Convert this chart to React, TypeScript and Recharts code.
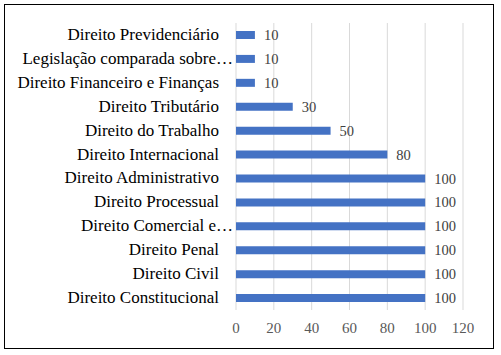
import { BarChart, Bar, XAxis, YAxis, CartesianGrid, LabelList } from "recharts";

const CATEGORIES = [
  "Direito Previdenciário",
  "Legislação comparada sobre…",
  "Direito Financeiro e Finanças",
  "Direito Tributário",
  "Direito do Trabalho",
  "Direito Internacional",
  "Direito Administrativo",
  "Direito Processual",
  "Direito Comercial e…",
  "Direito Penal",
  "Direito Civil",
  "Direito Constitucional",
];

const VALUES = [10, 10, 10, 30, 50, 80, 100, 100, 100, 100, 100, 100];

const X_TICKS = [0, 20, 40, 60, 80, 100, 120];

const data = CATEGORIES.map((name, i) => ({ name, value: VALUES[i] }));

const FONT = "Liberation Serif";

const XTick = (props: any) => {
  const { x, y, payload } = props;
  return (
    <text x={x} y={y + 23} textAnchor="middle" fill="#595959" fontSize={15} fontFamily={FONT}>
      {payload.value}
    </text>
  );
};

// truncated labels (with …) run right up to the bars, like in the original
const YTick = (props: any) => {
  const { x, y, payload } = props;
  const shift = String(payload.value).endsWith("…") ? 14 : 0;
  return (
    <text x={x + shift} y={y + 5} textAnchor="end" fill="#000" fontSize={17} fontFamily={FONT}>
      {payload.value}
    </text>
  );
};

const ValueLabel = (props: any) => {
  const { x, y, width, height, value } = props;
  return (
    <text x={x + width + 9} y={y + height / 2 + 5} fill="#404040" fontSize={14.5} fontFamily={FONT}>
      {value}
    </text>
  );
};

export default function App() {
  return (
    <div
      style={{
        position: "absolute",
        left: 0,
        top: 0,
        width: 501,
        height: 355,
        background: "#fff",
      }}
    >
      <div
        style={{
          position: "absolute",
          left: 4,
          top: 4,
          width: 488,
          height: 343,
          border: "1px solid #000",
        }}
      />
      <div style={{ position: "absolute", left: 0, top: 0 }}>
        <BarChart
          width={501}
          height={355}
          data={data}
          layout="vertical"
          margin={{ top: 23, right: 38, left: 0, bottom: 15 }}
        >
          <CartesianGrid horizontal={false} stroke="#d9d9d9" />
          <XAxis
            type="number"
            domain={[0, 120]}
            ticks={X_TICKS}
            axisLine={false}
            tickLine={false}
            tickSize={0}
            tickMargin={0}
            height={30}
            tick={<XTick />}
          />
          <YAxis
            type="category"
            dataKey="name"
            width={236}
            axisLine={false}
            tickLine={false}
            tickSize={0}
            tickMargin={17}
            interval={0}
            tick={<YTick />}
          />
          <Bar dataKey="value" fill="#4472c4" barSize={8} isAnimationActive={false}>
            <LabelList dataKey="value" content={<ValueLabel />} />
          </Bar>
        </BarChart>
      </div>
    </div>
  );
}
